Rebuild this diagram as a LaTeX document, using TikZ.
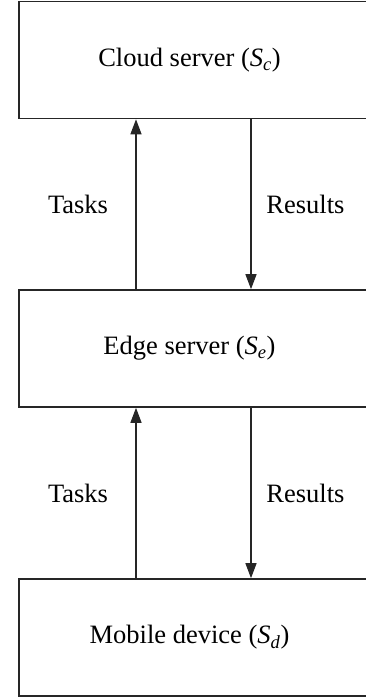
\documentclass[tikz,border=0pt]{standalone}
\usepackage{fontspec}
\setmainfont{Liberation Serif}
\usetikzlibrary{arrows.meta}
\newcommand{\sym}[1]{\textit{S}\textsubscript{\textit{#1}}}
\begin{document}
\begin{tikzpicture}[x=1pt,y=1pt,
  layerbox/.style={draw=black!85, line width=1.6pt, minimum width=353pt, minimum height=117pt, inner sep=0pt},
  lbl/.style={font=\fontsize{26.5}{30}\selectfont, inner sep=0pt},
  flow/.style={line width=1.3pt, draw=black!85, -{Triangle[width=11pt,length=15pt]}}]
\useasboundingbox (0,0) rectangle (366,699);
% boxes (right edge runs off the picture)
\node[layerbox] (cloud)  at (195.5,639) {};
\node[layerbox] (edge)   at (195.5,350.5) {};
\node[layerbox] (mobile) at (195.5,61.5) {};
% texts
\node[lbl] (tcloud)  at (189.5,639) {Cloud server (\sym{c})};
\node[lbl] (tedge)   at (189.5,350.5) {Edge server (\sym{e})};
\node[lbl] (tmobile) at (189.5,61.5) {Mobile device (\sym{d})};
% connectors
\draw[flow] (mobile.north -| 136,0) -- (edge.south -| 136,0);
\draw[flow] (edge.north -| 136,0) -- (cloud.south -| 136,0);
\draw[flow] (cloud.south -| 251,0) -- (edge.north -| 251,0);
\draw[flow] (edge.south -| 251,0) -- (mobile.north -| 251,0);
% connector labels
\node[lbl] (tasks1)   at (78,495) {Tasks};
\node[lbl] (results1) at (305.5,495) {Results};
\node[lbl] (tasks2)   at (78,206) {Tasks};
\node[lbl] (results2) at (305.5,206) {Results};
\end{tikzpicture}
\end{document}
